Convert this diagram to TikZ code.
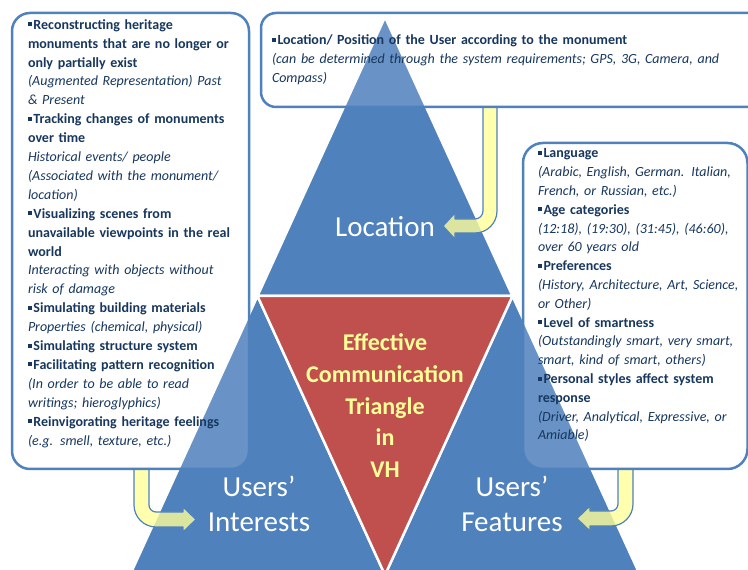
\documentclass[tikz,border=0pt]{standalone}
\usepackage{fontspec}
\setmainfont{Carlito}
\definecolor{triblue}{HTML}{4F81BD}
\definecolor{boxblue}{HTML}{4F81BD}
\definecolor{trired}{HTML}{C0504D}
\definecolor{textdark}{HTML}{17375E}
\definecolor{arrowyellow}{HTML}{FFFF99}
\definecolor{labelyellow}{HTML}{FFFF99}
\newcommand{\sqbul}{\rule[3pt]{4pt}{4pt}\hspace{1.5pt}}
\newcommand{\topstrut}{\rule{0pt}{12pt}}
\begin{document}
\begin{tikzpicture}[x=1pt,y=1pt,
  tri/.style={fill=triblue, draw=white, line width=2.5pt, line join=round},
  redtri/.style={fill=trired, draw=white, line width=2.5pt, line join=round},
  box/.style={draw=boxblue, line width=2.5pt, fill=white, fill opacity=0.15, rounded corners=18pt, inner sep=0pt, outer sep=0pt},
  yarrow/.style={fill=arrowyellow, fill opacity=0.8, draw=triblue, line width=1.2pt, line join=round},
  bodytext/.style={text=textdark, anchor=north west, inner sep=0pt, outer sep=0pt, align=left, font=\fontsize{14}{18.9}\selectfont},
  lbl/.style={text=white, font=\fontsize{29}{35}\selectfont, align=center, inner sep=0pt},
  redlbl/.style={text=labelyellow, font=\fontsize{24}{31.75}\selectfont\bfseries, align=center, inner sep=0pt}
]
\useasboundingbox (0,0) rectangle (748,570);
\clip (0,0) rectangle (748,570);
% triangle vertices
\coordinate (A) at (385,553);
\coordinate (BL) at (130,-5);
\coordinate (BR) at (640,-5);
\coordinate (ML) at (257.5,274);
\coordinate (MR) at (512.5,274);
\coordinate (MB) at (385,-5);
% triangles
\filldraw[tri] (A) -- (ML) -- (MR) -- cycle;
\filldraw[tri] (ML) -- (BL) -- (MB) -- cycle;
\filldraw[tri] (MR) -- (MB) -- (BR) -- cycle;
\filldraw[redtri] (ML) -- (MR) -- (MB) -- cycle;
% arrows
\filldraw[yarrow] (483,463) -- (483,359) arc[start angle=0,end angle=-90,radius=8]
  -- (455,351) -- (455,357) -- (443,344) -- (455,331) -- (455,337) -- (475,337)
  arc[start angle=-90,end angle=0,radius=22] -- (497,463) -- cycle;
\filldraw[yarrow] (134,101) -- (134,65) arc[start angle=180,end angle=270,radius=22]
  -- (183,43) -- (183,38) -- (196,50.5) -- (183,63) -- (183,58) -- (156,58)
  arc[start angle=270,end angle=180,radius=7] -- (149,101) -- cycle;
\filldraw[yarrow] (618,101) -- (618,66) arc[start angle=0,end angle=-90,radius=7]
  -- (590,59) -- (590,64) -- (577,51.5) -- (590,39) -- (590,44) -- (611,44)
  arc[start angle=-90,end angle=0,radius=22] -- (633,101) -- cycle;
% boxes
\node[box, minimum width=237pt, minimum height=456pt] (lbox) at (130.5,329) {};
\node[box, rounded corners=15pt, minimum width=519pt, minimum height=94pt] (tbox) at (520.5,510) {};
\node[box, rounded corners=20pt, minimum width=224.5pt, minimum height=326pt] (rbox) at (635.25,264) {};
% box texts
\node[bodytext, text width=300pt] (ltext) at (28,552.7) {\topstrut\sqbul\textbf{Reconstructing heritage}\\
\textbf{monuments that are no longer or}\\
\textbf{only partially exist}\\
\textit{(Augmented Representation) Past}\\
\textit{\& Present}\\
\sqbul\textbf{Tracking changes of monuments}\\
\textbf{over time}\\
\textit{Historical events/ people}\\
\textit{(Associated with the monument/}\\
\textit{location)}\\
\sqbul\textbf{Visualizing scenes from}\\
\textbf{unavailable viewpoints in the real}\\
\textbf{world}\\
\textit{Interacting with objects without}\\
\textit{risk of damage}\\
\sqbul\textbf{Simulating building materials}\\
\textit{Properties (chemical, physical)}\\
\sqbul\textbf{Simulating structure system}\\
\sqbul\textbf{Facilitating pattern recognition}\\
\textit{(In order to be able to read}\\
\textit{writings; hieroglyphics)}\\
\sqbul\textbf{Reinvigorating heritage feelings}\\
\textit{(e.g. smell, texture, etc.)}};
\node[bodytext, text width=470pt, font=\fontsize{14}{19}\selectfont] (ttext) at (272,537) {\topstrut\sqbul\textbf{Location/ Position of the User according to the monument}\\
\textit{(can be determined through the system requirements; GPS, 3G, Camera, and}\\
\textit{Compass)}};
\node[bodytext, text width=260pt, font=\fontsize{14}{18.8}\selectfont] (rtext) at (538,424) {\topstrut\sqbul\textbf{Language}\\
\textit{(Arabic, English, German. Italian,}\\
\textit{French, or Russian, etc.)}\\
\sqbul\textbf{Age categories}\\
\textit{(12:18), (19:30), (31:45), (46:60),}\\
\textit{over 60 years old}\\
\sqbul\textbf{Preferences}\\
\textit{(History, Architecture, Art, Science,}\\
\textit{or Other)}\\
\sqbul\textbf{Level of smartness}\\
\textit{(Outstandingly smart, very smart,}\\
\textit{smart, kind of smart, others)}\\
\sqbul\textbf{Personal styles affect system}\\
\textbf{response}\\
\textit{(Driver, Analytical, Expressive, or}\\
\textit{Amiable)}};
% triangle labels
\node[lbl] (loc) at (385,343) {Location};
\node[lbl, text width=150pt] (ui) at (259,66) {Users’\\Interests};
\node[lbl, text width=150pt] (uf) at (512,66) {Users’\\Features};
\node[redlbl, text width=200pt] (eff) at (385,164.3) {Effective\\Communication\\Triangle\\in\\VH};
\end{tikzpicture}
\end{document}
